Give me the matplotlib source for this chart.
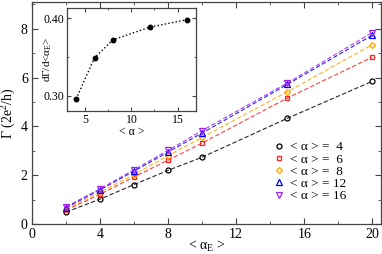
import matplotlib
matplotlib.use("Agg")
import matplotlib.pyplot as plt
from matplotlib.ticker import MultipleLocator

plt.rcParams['font.family'] = ['Liberation Serif', 'DejaVu Serif']
plt.rcParams['mathtext.fontset'] = 'custom'
plt.rcParams['mathtext.rm'] = 'Liberation Serif'
plt.rcParams['mathtext.it'] = 'Liberation Serif:italic'

alpha_E = [2, 4, 6, 8, 10, 15, 20]
g4 = [0.49, 1.02, 1.62, 2.2, 2.74, 4.33, 5.85]
g6 = [0.57, 1.22, 1.93, 2.62, 3.32, 5.16, 6.84]
g8 = [0.62, 1.30, 2.03, 2.80, 3.55, 5.42, 7.35]
g12 = [0.67, 1.40, 2.17, 2.95, 3.73, 5.72, 7.74]
g16 = [0.71, 1.44, 2.23, 3.02, 3.83, 5.78, 7.85]
series_labels = ['< α > =  4', '< α > =  6', '< α > =  8', '< α > = 12', '< α > = 16']

inset_alpha = [4, 6, 8, 12, 16]
inset_slope = [0.2954, 0.3487, 0.372, 0.3884, 0.398]

colors = ['black', '#ff2020', '#ffa500', '#0000ff', '#a020f0']
markers = ['o', 's', 'D', '^', 'v']
msizes = [3.6, 3.4, 3.0, 3.8, 3.8]

fig = plt.figure(figsize=(3.82, 2.54), dpi=100)
ax = fig.add_axes([0.0838, 0.118, 0.913, 0.874])
spine_col = '#444444'
for i, ys in enumerate([g4, g6, g8, g12, g16]):
    ax.plot(alpha_E, ys, linestyle=(0, (4, 2)), color=colors[i], lw=0.8, alpha=0.85)
    ax.plot(alpha_E, ys, linestyle='none', marker=markers[i], mfc='none',
            mec=colors[i], ms=msizes[i], mew=0.9, label=series_labels[i])

ax.set_xlim(0, 20.5)
ax.set_ylim(0, 9.1)
ax.xaxis.set_major_locator(MultipleLocator(4))
ax.xaxis.set_minor_locator(MultipleLocator(2))
ax.yaxis.set_major_locator(MultipleLocator(2))
ax.yaxis.set_minor_locator(MultipleLocator(1))
ax.tick_params(which='both', direction='in', top=True, right=True, color=spine_col,
               labelsize=10, pad=3)
ax.tick_params(which='major', length=4)
ax.tick_params(which='minor', length=2)
for s in ax.spines.values():
    s.set_color(spine_col)
    s.set_linewidth(0.9)
ax.set_xlabel('< α$_\\mathregular{E}$ >', fontsize=10, labelpad=-2)
ax.set_ylabel('Γ (2e$^\\mathregular{2}$/h)', fontsize=10, labelpad=2)

leg = ax.legend(loc='lower right', bbox_to_anchor=(0.925, 0.062), frameon=False,
                fontsize=9.5, handlelength=0.8, handletextpad=0.5,
                labelspacing=0.0, borderaxespad=0.2)

# inset
ins = fig.add_axes([0.175, 0.563, 0.338, 0.406])
ins.plot(inset_alpha, inset_slope, linestyle=':', color='black', lw=1.0,
         marker='o', ms=3.2, mfc='black', mec='black')
ins.set_xlim(3, 17)
ins.set_ylim(0.28, 0.4133)
ins.xaxis.set_major_locator(MultipleLocator(5))
ins.xaxis.set_minor_locator(MultipleLocator(2.5))
ins.yaxis.set_major_locator(MultipleLocator(0.1))
ins.yaxis.set_minor_locator(MultipleLocator(0.05))
ins.yaxis.set_major_formatter(matplotlib.ticker.FormatStrFormatter('%.2f'))
ins.tick_params(which='both', direction='in', top=True, right=True, color=spine_col,
                labelsize=8.5, pad=2)
ins.tick_params(which='major', length=3)
ins.tick_params(which='minor', length=1.5)
for s in ins.spines.values():
    s.set_color(spine_col)
    s.set_linewidth(0.9)
ins.set_xlabel('< α >', fontsize=8.5, labelpad=0)
ins.set_ylabel('dΓ/d<α$_\\mathregular{E}$>', fontsize=8)
ins.yaxis.set_label_coords(-0.10, 0.5)

fig.savefig('out.png', dpi=100)
